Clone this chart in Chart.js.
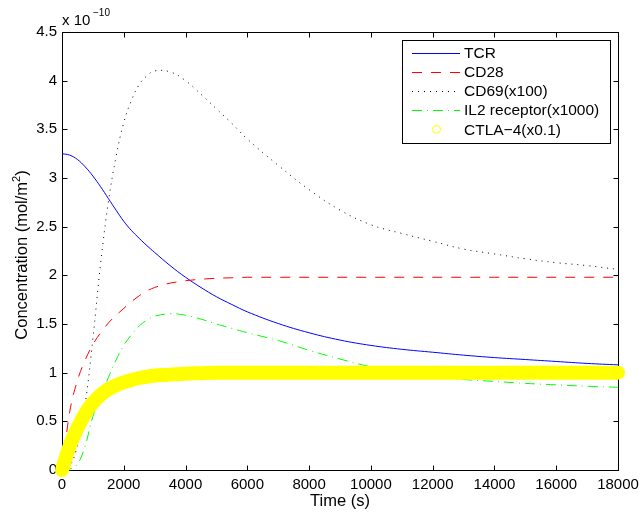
<!DOCTYPE html>
<html lang="en">
<head>
  <meta charset="UTF-8" />
  <title>Concentration vs Time</title>
  <script src="https://cdn.jsdelivr.net/npm/chart.js"></script>
  <style>
    body { margin: 0; background: #fff; }
    .chart-container { width: 641px; height: 514px; }
  </style>
</head>
<body>
  <div class="chart-container">
    <canvas id="concChart"></canvas>
  </div>

  <script>
    // time samples (s) and concentrations (x 1e-10 mol/m^2)
    const timeSec = [0, 250, 500, 750, 1000, 1250, 1500, 1750, 2000, 2250, 2500, 2750, 3000, 3500, 4000, 4500,
      5000, 5500, 6000, 7000, 8000, 9000, 10000, 11000, 12000, 13000, 14000, 15000, 16000, 17000, 18000];
    const tcr = [3.25, 3.235, 3.19, 3.115, 3.02, 2.91, 2.79, 2.67, 2.555, 2.46, 2.38, 2.305, 2.235, 2.10, 1.98, 1.875,
      1.78, 1.70, 1.625, 1.505, 1.41, 1.335, 1.28, 1.24, 1.21, 1.18, 1.155, 1.135, 1.115, 1.095, 1.08];
    const cd28 = [0, 0.60, 0.92, 1.13, 1.29, 1.41, 1.51, 1.59, 1.66, 1.73, 1.79, 1.84, 1.875, 1.92, 1.945, 1.96,
      1.97, 1.975, 1.98, 1.98, 1.98, 1.98, 1.98, 1.98, 1.98, 1.98, 1.98, 1.98, 1.98, 1.98, 1.98];
    const cd69 = [0, 0.04, 0.26, 0.68, 1.35, 2.12, 2.75, 3.22, 3.57, 3.80, 3.96, 4.05, 4.10, 4.09, 4.00, 3.86,
      3.71, 3.56, 3.40, 3.13, 2.88, 2.67, 2.52, 2.43, 2.35, 2.27, 2.22, 2.17, 2.13, 2.10, 2.06];
    const il2r = [0, 0.01, 0.06, 0.25, 0.55, 0.75, 0.95, 1.13, 1.28, 1.39, 1.48, 1.54, 1.58, 1.605, 1.59, 1.55,
      1.50, 1.455, 1.41, 1.33, 1.23, 1.14, 1.06, 1.00, 0.96, 0.93, 0.91, 0.89, 0.875, 0.86, 0.85];
    const ctla4 = [0, 0.25, 0.43, 0.58, 0.69, 0.77, 0.83, 0.87, 0.90, 0.925, 0.945, 0.96, 0.97, 0.98, 0.99, 0.995,
      1.0, 1.0, 1.0, 1.0, 1.0, 1.0, 1.0, 1.0, 1.0, 1.0, 1.0, 1.0, 1.0, 1.0, 1.0];

    const xTicks = [0, 2000, 4000, 6000, 8000, 10000, 12000, 14000, 16000, 18000];
    const yTicks = [0, 0.5, 1, 1.5, 2, 2.5, 3, 3.5, 4, 4.5];
    const seriesNames = ['TCR', 'CD28', 'CD69(x100)', 'IL2 receptor(x1000)', 'CTLA\u22124(x0.1)'];

    const FONT = "'Liberation Sans', Arial, sans-serif";

    function pts(vals) {
      return timeSec.map((t, i) => ({ x: t, y: vals[i] }));
    }

    // axes box, inward ticks, labels, exponent and a MATLAB style legend
    const matlabAxes = {
      id: 'matlabAxes',
      beforeDatasetsDraw(chart) {
        const { ctx, chartArea: a, scales } = chart;
        const L = Math.round(a.left) + 0.5, R = Math.round(a.right) + 0.5;
        const T = Math.round(a.top) + 0.5, B = Math.round(a.bottom) + 0.5;
        ctx.save();
        ctx.strokeStyle = '#000';
        ctx.lineWidth = 1;
        ctx.strokeRect(L, T, R - L, B - T);
        ctx.beginPath();
        xTicks.forEach(v => {
          const x = Math.round(scales.x.getPixelForValue(v)) + 0.5;
          ctx.moveTo(x, B); ctx.lineTo(x, B - 5);
          ctx.moveTo(x, T); ctx.lineTo(x, T + 5);
        });
        yTicks.forEach(v => {
          const y = Math.round(scales.y.getPixelForValue(v)) + 0.5;
          ctx.moveTo(L, y); ctx.lineTo(L + 5, y);
          ctx.moveTo(R, y); ctx.lineTo(R - 5, y);
        });
        ctx.stroke();

        ctx.fillStyle = '#000';
        ctx.font = '15px ' + FONT;
        ctx.textAlign = 'center';
        ctx.textBaseline = 'middle';
        xTicks.forEach(v => ctx.fillText(String(v), scales.x.getPixelForValue(v), 485));
        ctx.textAlign = 'right';
        yTicks.forEach(v => ctx.fillText(String(v), 57, scales.y.getPixelForValue(v)));

        // exponent
        ctx.textAlign = 'left';
        ctx.textBaseline = 'alphabetic';
        ctx.fillText('x 10', 62, 25);
        ctx.font = '10px ' + FONT;
        ctx.fillText('\u221210', 93, 16);

        // axis titles
        ctx.font = '16.5px ' + FONT;
        ctx.textAlign = 'center';
        ctx.textBaseline = 'middle';
        ctx.fillText('Time (s)', (a.left + a.right) / 2, 501);

        ctx.translate(21, 255);
        ctx.rotate(-Math.PI / 2);
        const main = 'Concentration (mol/m';
        ctx.font = '16.5px ' + FONT;
        const w1 = ctx.measureText(main).width;
        ctx.font = '11px ' + FONT;
        const w2 = ctx.measureText('2').width;
        ctx.font = '16.5px ' + FONT;
        const w3 = ctx.measureText(')').width;
        let x0 = -(w1 + w2 + w3) / 2;
        ctx.textAlign = 'left';
        ctx.textBaseline = 'alphabetic';
        ctx.fillText(main, x0, 6);
        ctx.font = '11px ' + FONT;
        ctx.fillText('2', x0 + w1, -1);
        ctx.font = '16.5px ' + FONT;
        ctx.fillText(')', x0 + w1 + w2, 6);
        ctx.restore();
      },
      afterDraw(chart) {
        const { ctx } = chart;
        const bx = 402.5, by = 40.5, bw = 208, bh = 103;
        ctx.save();
        ctx.fillStyle = '#fff';
        ctx.fillRect(bx, by, bw, bh);
        ctx.strokeStyle = '#000';
        ctx.lineWidth = 1;
        ctx.strokeRect(bx, by, bw, bh);
        ctx.font = '15.5px ' + FONT;
        ctx.textAlign = 'left';
        ctx.textBaseline = 'middle';
        seriesNames.forEach((name, i) => {
          const ds = chart.data.datasets[i];
          const y = 52.5 + i * 19.2;
          if (i < 4) {
            ctx.beginPath();
            ctx.strokeStyle = ds.borderColor;
            ctx.lineWidth = 1;
            ctx.setLineDash(ds.borderDash || []);
            ctx.moveTo(412, Math.round(y) + 0.5);
            ctx.lineTo(460, Math.round(y) + 0.5);
            ctx.stroke();
            ctx.setLineDash([]);
          } else {
            ctx.beginPath();
            ctx.strokeStyle = '#ffff00';
            ctx.lineWidth = 1;
            ctx.arc(436.5, y, 4, 0, Math.PI * 2);
            ctx.stroke();
          }
          ctx.fillStyle = '#000';
          ctx.fillText(name, 464, y + 1);
        });
        ctx.restore();
      }
    };

    new Chart(document.getElementById('concChart'), {
      type: 'line',
      data: {
        datasets: [
          {
            label: seriesNames[0], data: pts(tcr), borderColor: '#0000ff', borderWidth: 1,
            pointRadius: 0, tension: 0.4, order: 5
          },
          {
            label: seriesNames[1], data: pts(cd28), borderColor: '#ff0000', borderWidth: 1,
            borderDash: [10, 9], pointRadius: 0, cubicInterpolationMode: 'monotone', order: 4
          },
          {
            label: seriesNames[2], data: pts(cd69), borderColor: '#000000', borderWidth: 1,
            borderDash: [1, 5], pointRadius: 0, tension: 0.4, order: 3
          },
          {
            label: seriesNames[3], data: pts(il2r), borderColor: '#00ff00', borderWidth: 1,
            borderDash: [10, 5, 1, 5], pointRadius: 0, tension: 0.4, order: 2
          },
          {
            label: seriesNames[4], data: pts(ctla4), borderColor: '#ffff00', borderWidth: 14,
            borderCapStyle: 'round', borderJoinStyle: 'round', pointRadius: 0,
            cubicInterpolationMode: 'monotone', clip: false, order: 1
          }
        ]
      },
      options: {
        responsive: true,
        maintainAspectRatio: false,
        animation: false,
        events: [],
        layout: { padding: { left: 62, right: 23, top: 32, bottom: 44 } },
        plugins: { legend: { display: false }, tooltip: { enabled: false } },
        scales: {
          x: { type: 'linear', min: 0, max: 18000, display: false },
          y: { type: 'linear', min: 0, max: 4.5, display: false }
        }
      },
      plugins: [matlabAxes]
    });
  </script>
</body>
</html>
